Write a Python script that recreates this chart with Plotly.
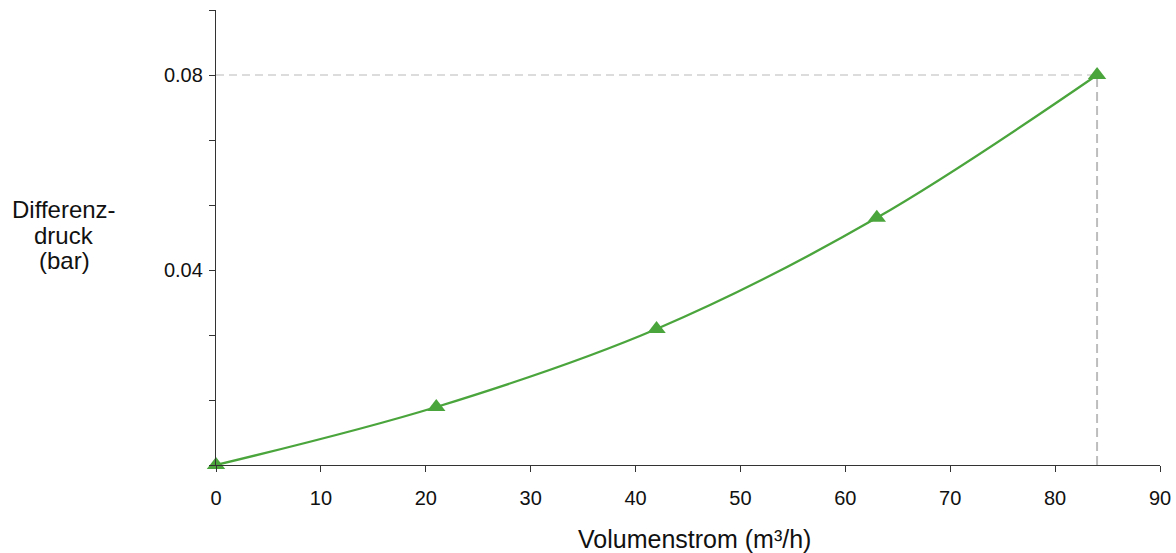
import plotly.graph_objects as go

flow = [0, 21, 42, 63, 84]
dp = [0.0, 0.0119, 0.0279, 0.0507, 0.08]
y_tick_vals = [0, 0.04/3, 0.08/3, 0.04, 0.16/3, 0.2/3, 0.08, 0.28/3]
y_tick_text = ["", "", "", "0.04", "", "", "0.08", ""]
x_tick_vals = [0, 10, 20, 30, 40, 50, 60, 70, 80, 90]
y_title_lines = ["Differenz-", "druck", "(bar)"]
x_title = "Volumenstrom (m³/h)"

green = "#4ba53d"
font = "Liberation Sans, Arial, sans-serif"
txt = "#111111"

fig = go.Figure()
fig.add_trace(go.Scatter(
    x=flow, y=dp, mode="lines+markers",
    line=dict(color=green, width=2.3, shape="spline", smoothing=1),
    marker=dict(symbol="triangle-up", size=16, color=green),
    cliponaxis=False, showlegend=False, hoverinfo="x+y",
))

xp, yp = flow[-1], dp[-1]
fig.add_shape(type="line", xref="x", yref="y", x0=0, x1=xp, y0=yp, y1=yp,
              line=dict(color="#dcdcdc", width=2, dash="8px,5px"), layer="below")
fig.add_shape(type="line", xref="x", yref="y", x0=xp, x1=xp, y0=0, y1=yp,
              line=dict(color="#bdbdbd", width=2, dash="9px,5px"), layer="below")

# plot area: 944 x 455 px
for line, yc in zip(y_title_lines, [0.561, 0.505, 0.450]):
    fig.add_annotation(text=line, xref="paper", yref="paper",
                       x=-152/944, y=yc, xanchor="center", yanchor="middle",
                       showarrow=False, align="center",
                       font=dict(family=font, size=24, color=txt))

fig.add_annotation(text=x_title, xref="paper", yref="paper",
                   x=(694-216)/944, y=-74/455, xanchor="center", yanchor="middle",
                   showarrow=False, font=dict(family=font, size=25, color=txt))

fig.update_layout(
    width=1176, height=553,
    margin=dict(l=216, r=16, t=10, b=88, autoexpand=False),
    plot_bgcolor="white", paper_bgcolor="white",
    font=dict(family=font, size=20, color=txt),
    xaxis=dict(range=[0, 90], tickvals=x_tick_vals, ticks="outside", ticklen=6,
               tickcolor="#333333", showline=True, linecolor="#333333", linewidth=1.3,
               showgrid=False, zeroline=False, tickfont=dict(size=20),
               ticklabelstandoff=9, automargin=False),
    yaxis=dict(range=[0, 0.28/3], tickvals=y_tick_vals, ticktext=y_tick_text,
               ticks="outside", ticklen=6, tickcolor="#333333", showline=True,
               linecolor="#333333", linewidth=1.3, showgrid=False, zeroline=False,
               tickfont=dict(size=20), ticklabelstandoff=2, automargin=False),
)

fig.write_html("out.html", config={"displayModeBar": False},
               post_script="document.body.style.margin='0';document.body.style.overflow='hidden';")
